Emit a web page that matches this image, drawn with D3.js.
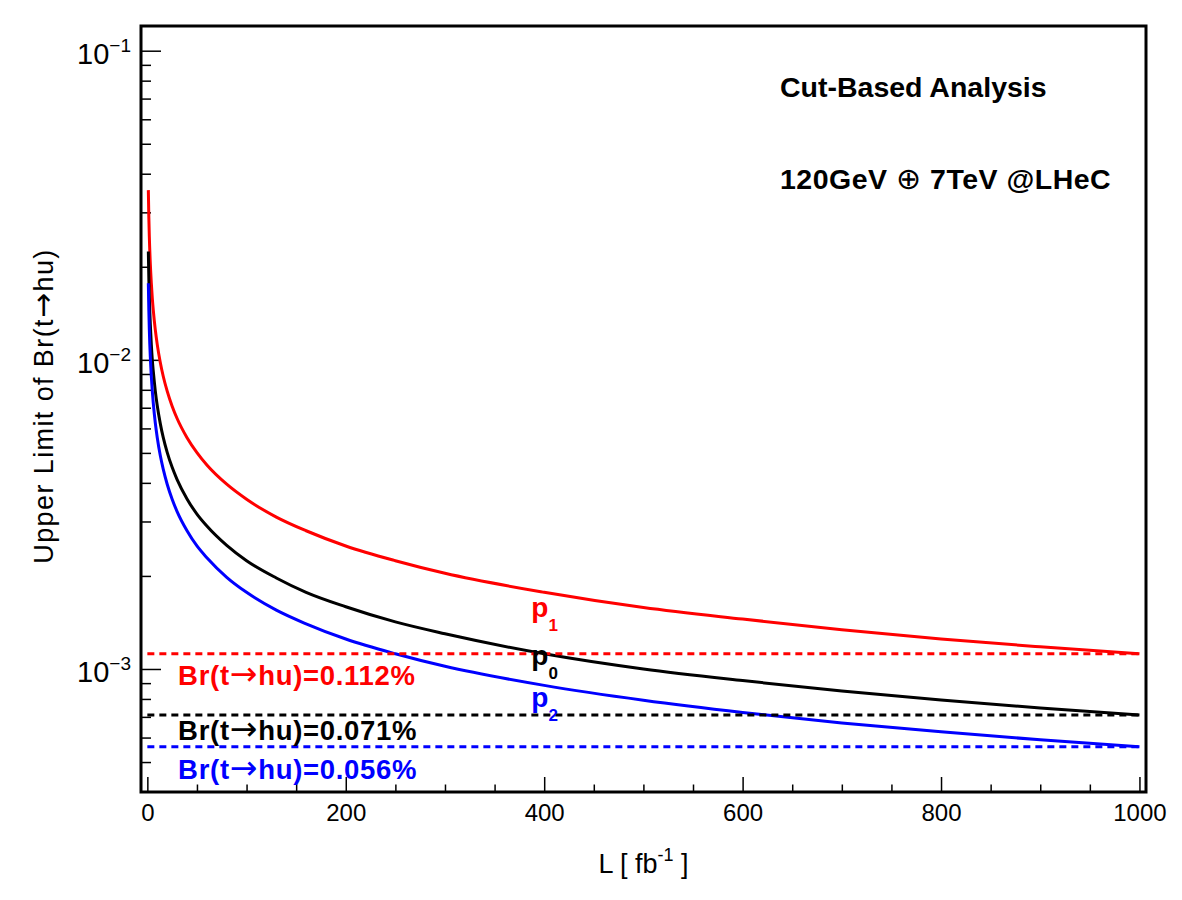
<!DOCTYPE html>
<html>
<head>
<meta charset="utf-8">
<script src="https://cdn.jsdelivr.net/npm/d3@7"></script>
<style>
  body { margin: 0; background: #fff; }
  text { font-family: "Liberation Sans", Arial, Helvetica, sans-serif; }
  .sym { font-family: "DejaVu Sans", sans-serif; font-weight: normal; }
</style>
</head>
<body>
<div id="chart"></div>
<script>
// Chart size
var svgWidth = 1182;
var svgHeight = 900;

var margin = { top: 26, right: 36, bottom: 108, left: 141 };
var chartWidth = svgWidth - margin.left - margin.right;
var chartHeight = svgHeight - margin.top - margin.bottom;

// Integrated luminosity points (fb^-1)
var lumi = [1, 1.5, 2, 3, 4, 5, 6, 8, 10, 13, 16, 20, 25, 30, 40, 50, 60, 80, 100,
  130, 160, 200, 250, 300, 400, 500, 600, 700, 800, 900, 1000];

// Upper limits
var limitP1 = [0.0354, 0.0289, 0.0250, 0.0204, 0.0177, 0.0158, 0.01445, 0.01252, 0.0112,
  0.00982, 0.00885, 0.00792, 0.00708, 0.00646, 0.00560, 0.00501, 0.00457, 0.00396, 0.00354,
  0.00310, 0.00280, 0.00250, 0.00224, 0.00204, 0.00177, 0.00158, 0.00145, 0.00134,
  0.00125, 0.00118, 0.00112];
var limitP0 = [0.0224, 0.0183, 0.0159, 0.0130, 0.0112, 0.0100, 0.00917, 0.00794, 0.00710,
  0.00623, 0.00561, 0.00502, 0.00449, 0.00410, 0.00355, 0.00317, 0.00290, 0.00251, 0.00224,
  0.00197, 0.00177, 0.00159, 0.00142, 0.00130, 0.00112, 0.00100, 0.000917, 0.000849,
  0.000794, 0.000748, 0.000710];
var limitP2 = [0.0177, 0.01445, 0.0125, 0.0102, 0.00885, 0.00792, 0.00723, 0.00626, 0.00560,
  0.00491, 0.00443, 0.00396, 0.00354, 0.00323, 0.00280, 0.00250, 0.00229, 0.00198, 0.00177,
  0.00155, 0.00140, 0.00125, 0.00112, 0.00102, 0.000885, 0.000792, 0.000723, 0.000669,
  0.000626, 0.000590, 0.000560];

// Final limits at 1000 fb^-1 (dashed reference lines)
var refLimits = [0.00112, 0.00071, 0.00056];
var refValues = ["0.112%", "0.071%", "0.056%"];
var seriesNames = ["1", "0", "2"];
var seriesColors = ["#ff0000", "#000000", "#0000ff"];

// Axis ticks
var xMajorTicks = [0, 200, 400, 600, 800, 1000];
var xMinorTicks = d3.range(0, 1001, 50).filter(function(v) { return v % 200 !== 0; });
var yMajorTicks = [1e-3, 1e-2, 1e-1];
var yMajorLabels = ["\u22123", "\u22122", "\u22121"];
var yMinorTicks = [5e-4, 6e-4, 7e-4, 8e-4, 9e-4,
  2e-3, 3e-3, 4e-3, 5e-3, 6e-3, 7e-3, 8e-3, 9e-3,
  2e-2, 3e-2, 4e-2, 5e-2, 6e-2, 7e-2, 8e-2, 9e-2];

var svg = d3.select("#chart")
  .append("svg")
  .attr("width", svgWidth)
  .attr("height", svgHeight);

var chartGroup = svg.append("g")
  .attr("transform", `translate(${margin.left}, ${margin.top})`);

var xScale = d3.scaleLinear().domain([-6.4, 1006.6]).range([0, chartWidth]);
var yScale = d3.scaleLog().domain([4.0e-4, 0.1202]).range([chartHeight, 0]);

// Clip curves to the frame
svg.append("defs").append("clipPath").attr("id", "frameClip")
  .append("rect").attr("width", chartWidth).attr("height", chartHeight);

// Bottom axis: ticks pointing inward
var xMajor = chartGroup.append("g")
  .attr("transform", `translate(0, ${chartHeight})`)
  .call(d3.axisBottom(xScale).tickValues(xMajorTicks).tickSize(-15).tickPadding(12).tickFormat(d3.format("d")));
xMajor.selectAll("text").attr("font-size", 24).attr("fill", "#000");

chartGroup.append("g")
  .attr("transform", `translate(0, ${chartHeight})`)
  .call(d3.axisBottom(xScale).tickValues(xMinorTicks).tickSize(-7.5).tickFormat(""));

// Left axis, log
chartGroup.append("g")
  .call(d3.axisLeft(yScale).tickValues(yMajorTicks).tickSize(-20).tickFormat(""));
chartGroup.append("g")
  .call(d3.axisLeft(yScale).tickValues(yMinorTicks).tickSize(-10).tickFormat(""));

chartGroup.selectAll(".domain").remove();
chartGroup.selectAll(".tick line").attr("stroke", "#000").attr("stroke-width", 1.5);

// y tick labels as 10^n
var yLab = chartGroup.selectAll(".ylab").data(yMajorTicks).enter().append("text")
  .attr("class", "ylab")
  .attr("x", -10)
  .attr("y", d => yScale(d) + 13)
  .attr("text-anchor", "end")
  .attr("font-size", 29);
yLab.append("tspan").text("10");
yLab.append("tspan").attr("font-size", 19).attr("dy", -12).text((d, i) => yMajorLabels[i]);

// Curves
var line = d3.line()
  .x(d => xScale(d[0]))
  .y(d => yScale(d[1]))
  .curve(d3.curveMonotoneX);

var curves = [limitP1, limitP0, limitP2];
var curvesGroup = chartGroup.append("g").attr("clip-path", "url(#frameClip)");
curves.forEach(function(vals, i) {
  curvesGroup.append("path")
    .datum(lumi.map((L, j) => [L, vals[j]]))
    .attr("d", line)
    .attr("fill", "none")
    .attr("stroke", seriesColors[i])
    .attr("stroke-width", 3);
});

// Dashed reference lines
curvesGroup.selectAll(".ref").data(refLimits).enter().append("line")
  .attr("x1", xScale(0))
  .attr("x2", xScale(1000))
  .attr("y1", d => yScale(d))
  .attr("y2", d => yScale(d))
  .attr("stroke", (d, i) => seriesColors[i])
  .attr("stroke-width", 3)
  .attr("stroke-dasharray", "7,5");

// Reference labels: Br(t->hu)=value
var refLabelY = [8.86e-4, 5.88e-4, 4.40e-4];
var refLab = chartGroup.selectAll(".reflab").data(refValues).enter().append("text")
  .attr("x", xScale(31))
  .attr("y", (d, i) => yScale(refLabelY[i]))
  .attr("font-size", 27.5)
  .attr("font-weight", "bold")
  .attr("letter-spacing", 0.7)
  .attr("fill", (d, i) => seriesColors[i]);
refLab.append("tspan").text("Br(t");
refLab.append("tspan").attr("class", "sym").attr("font-size", 33).text("\u2192");
refLab.append("tspan").text(d => "hu)=" + d);

// p labels
var pLabelY = [1.47e-3, 1.028e-3, 7.53e-4];
var pLab = chartGroup.selectAll(".plab").data(seriesNames).enter().append("text")
  .attr("x", xScale(387))
  .attr("y", (d, i) => yScale(pLabelY[i]))
  .attr("font-size", 28)
  .attr("font-weight", "bold")
  .attr("fill", (d, i) => seriesColors[i]);
pLab.append("tspan").text("p");
pLab.append("tspan").attr("font-size", 17).attr("dy", 14).text(d => d);

// Text in the upper right
chartGroup.append("text")
  .attr("x", 780 - margin.left)
  .attr("y", 97 - margin.top)
  .attr("font-size", 28.5)
  .attr("font-weight", "bold")
  .text("Cut-Based Analysis");

var beamText = chartGroup.append("text")
  .attr("x", 780 - margin.left)
  .attr("y", 189 - margin.top)
  .attr("font-size", 28.5)
  .attr("font-weight", "bold")
  .attr("letter-spacing", 0.5);
beamText.append("tspan").text("120GeV  ");
beamText.append("tspan").attr("class", "sym").attr("font-size", 30).text("\u2295");
beamText.append("tspan").text(" 7TeV @LHeC");

// Frame
chartGroup.append("rect")
  .attr("width", chartWidth)
  .attr("height", chartHeight)
  .attr("fill", "none")
  .attr("stroke", "#000")
  .attr("stroke-width", 3);

// Axis titles
var xTitle = svg.append("text")
  .attr("x", margin.left + chartWidth / 2)
  .attr("y", 873)
  .attr("text-anchor", "middle")
  .attr("font-size", 27);
xTitle.append("tspan").text("L [ fb");
xTitle.append("tspan").attr("font-size", 18).attr("dy", -12).text("-1");
xTitle.append("tspan").attr("dy", 12).text(" ]");

var yTitle = svg.append("text")
  .attr("transform", `translate(53, ${margin.top + chartHeight / 2 - 3}) rotate(-90)`)
  .attr("text-anchor", "middle")
  .attr("font-size", 27)
  .attr("letter-spacing", 1.4);
yTitle.append("tspan").text("Upper Limit of Br(t");
yTitle.append("tspan").attr("class", "sym").attr("font-size", 30).text("\u2192");
yTitle.append("tspan").text("hu)");
</script>
</body>
</html>
